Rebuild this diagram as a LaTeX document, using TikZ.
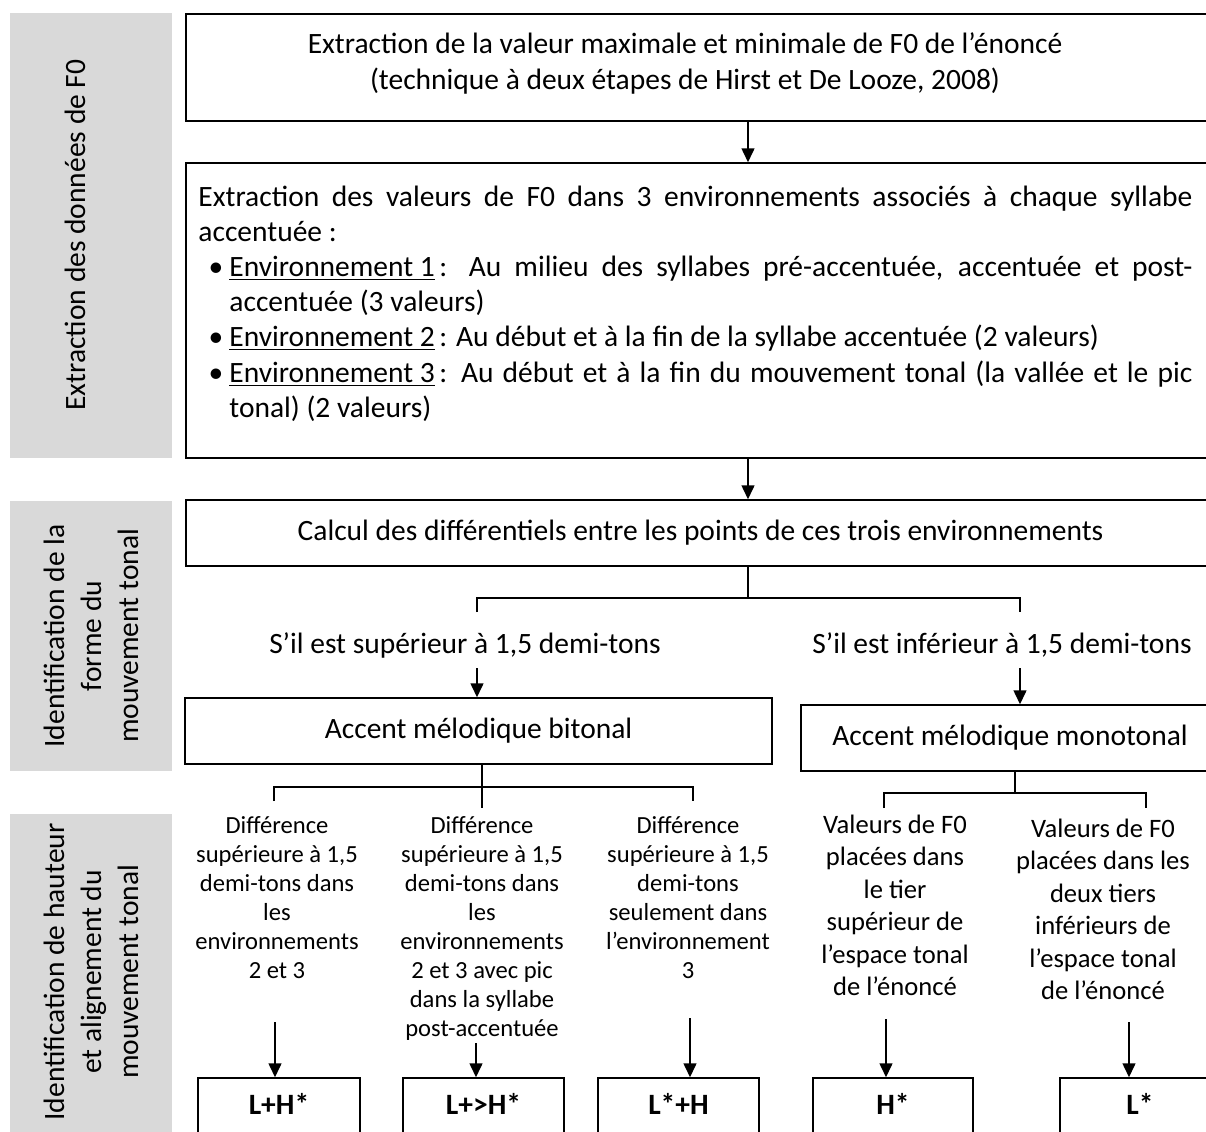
\documentclass[tikz,border=0pt]{standalone}
\usepackage{fontspec}
\setmainfont{Carlito}
\usetikzlibrary{arrows.meta}
\newcommand\mainsz{\fontsize{14.75pt}{17.6pt}\selectfont}
\newcommand\bandsz{\fontsize{14.75pt}{18.5pt}\selectfont}
\newcommand\colsz{\fontsize{12.3pt}{14.5pt}\selectfont}
\newcommand\colbsz{\fontsize{13.3pt}{16.25pt}\selectfont}
\newcommand\envb{\hspace*{15.5pt}\llap{\textbullet\hspace{3pt}}}
\definecolor{bandgray}{HTML}{D9D9D9}
\begin{document}
\begin{tikzpicture}[x=0.5pt,y=-0.5pt,
  band/.style={fill=bandgray,draw=none},
  bandtext/.style={rotate=90,align=center,font=\bandsz,inner sep=0},
  box/.style={draw=black,line width=0.75pt,inner sep=0,font=\mainsz,text height=11pt,text depth=3.7pt},
  lab/.style={box,font=\mainsz\bfseries,minimum height=29pt},
  freetext/.style={font=\mainsz,inner sep=0,text height=11pt,text depth=3.7pt},
  coltext/.style={anchor=base,align=center,inner sep=0,font=\colsz},
  colbtext/.style={anchor=base,align=center,inner sep=0,font=\colbsz},
  arr/.style={line width=0.75pt,-{Triangle[length=7pt,width=6.5pt]}},
  ln/.style={line width=0.75pt}]
\useasboundingbox (0,0) rectangle (1206,1131);
\clip (0,0) rectangle (1206,1131);
% grey bands
\path[band] (10,13) rectangle (172,458);
\path[band] (10,501) rectangle (172,771);
\path[band] (10,814) rectangle (172,1140);
\node[bandtext] (t1) at (75,235) {Extraction des données de F0};
\node[bandtext] (t2) at (91,636) {Identification de la\\forme du\\mouvement tonal};
\node[bandtext] (t3) at (91,972) {Identification de hauteur\\et alignement du\\mouvement tonal};
% top boxes
\node[box,minimum width=514.5pt,minimum height=53.5pt] (b1) at (700.5,67.5) {};
\node[font=\mainsz,align=center,anchor=base,inner sep=0] (b1t) at (685,89)
  {Extraction de la valeur maximale et minimale de F0 de l’énoncé\\(technique à deux étapes de Hirst et De Looze, 2008)};
\node[box,minimum width=514.5pt,minimum height=147.5pt] (b2) at (700.5,310.5) {};
\node[anchor=base west,inner sep=0,font=\mainsz] (b2t) at (198,206) {\parbox[t]{497pt}{%
\makebox[497pt][s]{Extraction des valeurs de F0 dans 3 environnements associés à chaque syllabe}\\
accentuée :\\
\envb\makebox[481.5pt][s]{\underline{Environnement 1}\hspace{0.15em}: Au milieu des syllabes pré-accentuée, accentuée et post-}\\
\hspace*{15.5pt}accentuée (3 valeurs)\\
\envb\underline{Environnement 2}\hspace{0.15em}: Au début et à la fin de la syllabe accentuée (2 valeurs)\\
\envb\makebox[481.5pt][s]{\underline{Environnement 3}\hspace{0.15em}: Au début et à la fin du mouvement tonal (la vallée et le pic}\\
\hspace*{15.5pt}tonal) (2 valeurs)}};
\node[box,minimum width=514.5pt,minimum height=33pt] (b3) at (700.5,533)
  {Calcul des différentiels entre les points de ces trois environnements};
% first bracket
\coordinate (x748) at (748,0);
\draw[arr] (b1.south -| x748) -- (b2.north -| x748);
\draw[arr] (b2.south -| x748) -- (b3.north -| x748);
\coordinate (j1) at (748,598);
\coordinate (j1l) at (477,598);
\coordinate (j1r) at (1020,598);
\draw[ln] (b3.south -| j1) -- (j1);
\draw[ln] ([yshift=-7pt]j1l) -- (j1l) -- (j1r) -- ([yshift=-7pt]j1r);
\node[freetext] (sup) at (465,646) {S’il est supérieur à 1,5 demi-tons};
\node[freetext] (inf) at (1002,646) {S’il est inférieur à 1,5 demi-tons};
\node[box,minimum width=293.5pt,minimum height=33pt] (bit) at (478.5,731) {Accent mélodique bitonal};
\node[box,minimum width=209pt,minimum height=33pt] (mono) at (1010,738) {Accent mélodique monotonal};
\coordinate (aL) at (477,668);
\coordinate (aR) at (1020,668);
\draw[arr] (aL) -- (aL |- bit.north);
\draw[arr] (aR) -- (aR |- mono.north);
% second brackets
\coordinate (j2) at (482,787);
\coordinate (j2l) at (274,787);
\coordinate (j2r) at (693,787);
\draw[ln] (bit.south -| j2) -- ([yshift=-10.5pt]j2);
\draw[ln] ([yshift=-7pt]j2l) -- (j2l) -- (j2r) -- ([yshift=-7pt]j2r);
\coordinate (j3) at (1015,793);
\coordinate (j3l) at (884,793);
\coordinate (j3r) at (1146,793);
\draw[ln] (mono.south -| j3) -- (j3);
\draw[ln] ([yshift=-7.5pt]j3l) -- (j3l) -- (j3r) -- ([yshift=-7.5pt]j3r);
% column texts (anchor base = last line)
\node[coltext] (cA) at (277,978) {Différence\\supérieure à 1,5\\demi-tons dans\\les\\environnements\\2 et 3};
\node[coltext] (cB) at (482,1036) {Différence\\supérieure à 1,5\\demi-tons dans\\les\\environnements\\2 et 3 avec pic\\dans la syllabe\\post-accentuée};
\node[coltext] (cC) at (688,978) {Différence\\supérieure à 1,5\\demi-tons\\seulement dans\\l’environnement\\3};
\node[colbtext] (cD) at (895,995.5) {Valeurs de F0\\placées dans\\le tier\\supérieur de\\l’espace tonal\\de l’énoncé};
\node[colbtext] (cE) at (1103,999.5) {Valeurs de F0\\placées dans les\\deux tiers\\inférieurs de\\l’espace tonal\\de l’énoncé};
% result boxes
\node[lab,minimum width=81pt] (lh) at (279,1107) {L+H*};
\node[lab,minimum width=80.5pt] (lhh) at (483.5,1107) {L+>H*};
\node[lab,minimum width=80.5pt] (lsh) at (678.5,1107) {L*+H};
\node[lab,minimum width=80pt] (hs) at (893,1107) {H*};
\node[lab,minimum width=80pt] (ls) at (1140,1107) {L*};
\coordinate (aA) at (275,1022);
\coordinate (aB) at (476,1043);
\coordinate (aC) at (690,1018);
\coordinate (aD) at (886,1019);
\coordinate (aE) at (1129,1022);
\draw[arr] (aA) -- (aA |- lh.north);
\draw[arr] (aB) -- (aB |- lhh.north);
\draw[arr] (aC) -- (aC |- lsh.north);
\draw[arr] (aD) -- (aD |- hs.north);
\draw[arr] (aE) -- (aE |- ls.north);
\end{tikzpicture}
\end{document}
